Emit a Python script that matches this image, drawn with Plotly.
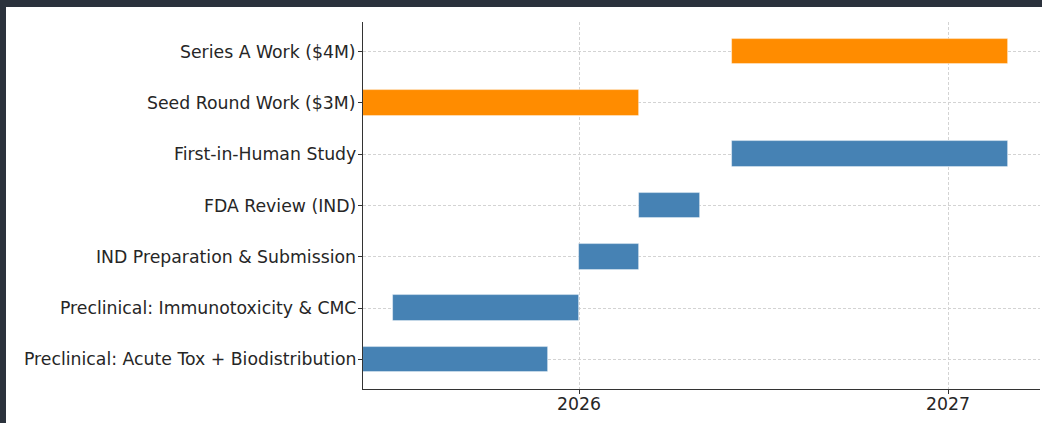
import pandas as pd
import plotly.graph_objects as go

tasks = [
    "Preclinical: Acute Tox + Biodistribution",
    "Preclinical: Immunotoxicity & CMC",
    "IND Preparation & Submission",
    "FDA Review (IND)",
    "First-in-Human Study",
    "Seed Round Work ($3M)",
    "Series A Work ($4M)",
]
starts = ["2025-06-01", "2025-07-01", "2026-01-01", "2026-03-01", "2026-06-01", "2025-06-01", "2026-06-01"]
ends = ["2025-12-01", "2026-01-01", "2026-03-01", "2026-05-01", "2027-03-01", "2026-03-01", "2027-03-01"]
kinds = ["task", "task", "task", "task", "task", "funding", "funding"]
tick_years = ["2026-01-01", "2027-01-01"]
tick_text = ["2026", "2027"]

color_map = {"task": "#4682B4", "funding": "#FF8C00"}

s = pd.to_datetime(starts)
e = pd.to_datetime(ends)
dur_ms = [(b - a).total_seconds() * 1000 for a, b in zip(s, e)]

fig = go.Figure()
fig.add_trace(go.Bar(
    y=tasks,
    x=dur_ms,
    base=starts,
    orientation="h",
    width=0.5,
    marker=dict(color=[color_map[k] for k in kinds], line=dict(width=0.8, color="rgba(255,255,255,0.5)")),
    showlegend=False,
    hoverinfo="skip",
))

W, H = 1042, 423
L, R, T, B = 363, 2, 22, 34
pw, ph = W - L - R, H - T - B
fig.add_shape(
    type="rect", xref="paper", yref="paper", layer="below",
    x0=(6 - L) / pw, x1=1.05, y0=-(B + 5) / ph, y1=1 + (T - 7) / ph,
    fillcolor="white", line=dict(width=0),
)

font_family = "DejaVu Sans"
label_font = dict(family=font_family, size=17.3, color="#262626")
for tv, tt in zip(tick_years, tick_text):
    fig.add_annotation(
        x=tv, y=0, xref="x", yref="paper", text=tt, showarrow=False,
        xanchor="center", yanchor="top", yshift=-3, font=label_font,
    )
for t in tasks:
    fig.add_annotation(
        x=0, y=t, xref="paper", yref="y", text=t, showarrow=False,
        xanchor="right", yanchor="middle", xshift=-5, font=label_font,
    )

fig.update_layout(
    width=W, height=H,
    margin=dict(l=L, r=R, t=T, b=B),
    paper_bgcolor="#2b323c",
    plot_bgcolor="white",
    font=dict(family=font_family, size=17.3, color="#262626"),
    bargap=0,
)
fig.update_xaxes(
    type="date",
    range=["2025-06-01", "2027-04-02"],
    tickvals=tick_years, ticktext=tick_text, showticklabels=False,
    ticks="outside", ticklen=4, tickwidth=1, tickcolor="#333333",
    showline=True, linecolor="#333333", linewidth=1.2,
    showgrid=True, gridcolor="#d3d3d3", griddash="3px,2px", gridwidth=0.8,
    zeroline=False,
    layer="above traces",
)
fig.update_yaxes(
    type="category",
    categoryorder="array", categoryarray=tasks,
    range=[-0.575, 6.575], showticklabels=False,
    ticks="outside", ticklen=4, tickwidth=1, tickcolor="#333333",
    showline=True, linecolor="#333333", linewidth=1.2,
    showgrid=True, gridcolor="#d3d3d3", griddash="3px,2px", gridwidth=0.8,
    zeroline=False,
    layer="above traces",
)

fig.write_html(
    "out.html",
    config={"displayModeBar": False},
    post_script="document.body.style.margin='0';document.body.style.overflow='hidden';document.body.style.background='#2b323c';",
)
